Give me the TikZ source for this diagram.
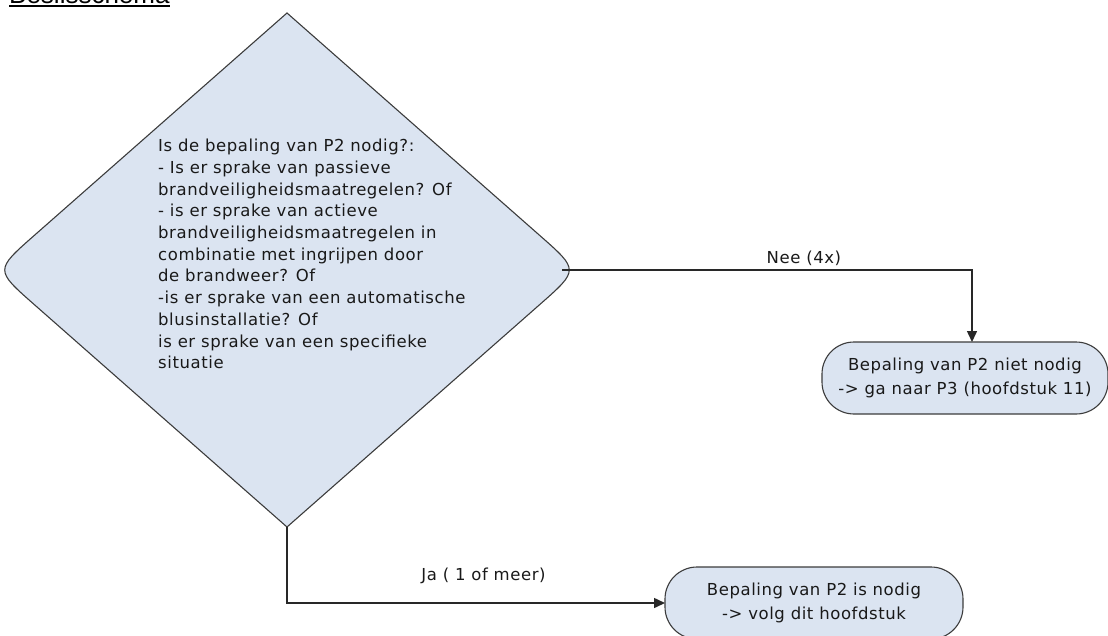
\documentclass[tikz,border=0pt]{standalone}
\usepackage{fontspec}
\setmainfont{DejaVu Sans}[LetterSpace=3.5]
\newfontfamily\kopfont{Liberation Sans}
\usetikzlibrary{calc, positioning, arrows.meta, shapes.geometric}

\definecolor{vakblauw}{RGB}{219,228,241}
\definecolor{randgrijs}{RGB}{60,60,60}
\definecolor{lijngrijs}{RGB}{40,40,40}

\tikzset{
  keuze/.style={diamond, minimum width=584pt, minimum height=514pt, inner sep=0pt, outer sep=0pt},
  keuzerand/.style={fill=vakblauw, draw=randgrijs, line width=1.1pt},
  uitkomst/.style={draw=randgrijs, fill=vakblauw, line width=1.1pt, rounded corners=32pt,
    align=center, inner sep=0pt, outer sep=0pt, text=black!90, font=\fontsize{16.5}{24}\selectfont},
  vraagtekst/.style={align=left, inner sep=0pt, text=black!90, font=\fontsize{16.5}{21.7}\selectfont},
  verbinder/.style={draw=lijngrijs, line width=1.5pt, -{Triangle[length=11pt,width=10pt]}},
  bijschrift/.style={inner sep=4pt, text=black!90, font=\fontsize{16.5}{18}\selectfont},
  kop/.style={inner sep=0pt, font=\kopfont\fontsize{26}{30}\selectfont}
}

\begin{document}
\begin{tikzpicture}[x=1pt, y=-1pt]

    \useasboundingbox (0,0) rectangle (1108,635);

    % title, mostly above the page
    \node[kop, anchor=base west] (kop) at (9,3) {Beslisschema};
    \draw[line width=2pt] ([yshift=-2.5pt]kop.base west) -- ([yshift=-2.5pt]kop.base east);

    % decision diamond, sharp at top and bottom
    \node[keuze] (vraag) at (287,270) {};
    \filldraw[keuzerand] (vraag.north) -- ($(vraag.east)!52pt!(vraag.north)$)
        .. controls (vraag.east) .. ($(vraag.east)!52pt!(vraag.south)$)
        -- (vraag.south) -- ($(vraag.west)!52pt!(vraag.south)$)
        .. controls (vraag.west) .. ($(vraag.west)!52pt!(vraag.north)$) -- cycle;
    % rounded right tip, where the line leaves
    \coordinate (vraagpunt) at ([xshift=-17pt]vraag.east);
    \node[vraagtekst, anchor=north west] (vraagtxt) at (158,139) {Is de bepaling van P2 nodig?:\\
        - Is er sprake van passieve\\
        brandveiligheidsmaatregelen? Of\\
        - is er sprake van actieve\\
        brandveiligheidsmaatregelen in\\
        combinatie met ingrijpen door\\
        de brandweer? Of\\
        -is er sprake van een automatische\\
        blusinstallatie? Of\\
        is er sprake van een specifieke\\
        situatie};

    % outcomes
    \node[uitkomst, minimum width=286pt, minimum height=72pt] (nietnodig) at (965,378)
        {Bepaling van P2 niet nodig\\-> ga naar P3 (hoofdstuk 11)};
    \node[uitkomst, minimum width=298pt, minimum height=72pt] (isnodig) at (814,603)
        {Bepaling van P2 is nodig\\-> volg dit hoofdstuk};

    % connectors
    \draw[verbinder] (vraagpunt) -- node[bijschrift, pos=0.59, above] {Nee (4x)}
        ($(vraagpunt -| nietnodig.north)+(7,0)$) -- ([xshift=7pt]nietnodig.north);
    \draw[verbinder] (vraag.south) |- node[bijschrift, pos=0.76, above=14pt] {Ja ( 1 of meer)}
        (isnodig.west);

\end{tikzpicture}
\end{document}
